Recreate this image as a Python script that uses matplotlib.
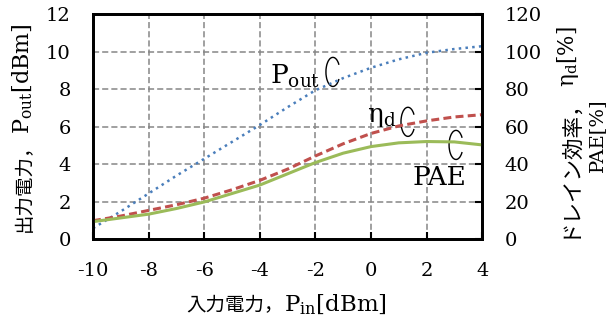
import matplotlib
matplotlib.use("Agg")
import matplotlib.pyplot as plt
from matplotlib.patches import Arc

# input power [dBm]
pin = [-10, -9, -8, -7, -6, -5, -4, -3, -2, -1, 0, 1, 2, 3, 4]
# output power [dBm]
pout = [0.6, 1.5, 2.45, 3.4, 4.3, 5.2, 6.1, 7.05, 7.95, 8.6, 9.15, 9.6, 9.95, 10.15, 10.3]
# drain efficiency [%]
eta_d = [10, 12.5, 15.5, 18.5, 22, 26.5, 31.5, 37.5, 44.5, 51, 56.5, 60.5, 63.2, 65.3, 66.5]
# power added efficiency [%]
pae = [9.5, 11.5, 13.5, 16.5, 20, 24.5, 29, 35, 41, 46, 49.5, 51.5, 52.2, 52, 50.4]

xticks = [-10, -8, -6, -4, -2, 0, 2, 4]
yticks_left = [0, 2, 4, 6, 8, 10, 12]
yticks_right = [0, 20, 40, 60, 80, 100, 120]

plt.rcParams["font.family"] = ["DejaVu Serif", "Noto Sans CJK JP"]
plt.rcParams["mathtext.fontset"] = "dejavuserif"
plt.rcParams["mathtext.default"] = "rm"

jp = ["Noto Sans CJK JP"]

fig = plt.figure(figsize=(6.08, 3.2), dpi=100)
ax = fig.add_axes([0.153, 0.2516, 0.640, 0.7037])
ax2 = ax.twinx()

ax.plot(pin, pout, color="#4a7ebb", linestyle=(0, (1, 1.7)), linewidth=1.8)
ax2.plot(pin, eta_d, color="#c0504d", linestyle=(0, (2.6, 1.4)), linewidth=2.2)
ax2.plot(pin, pae, color="#9bbb59", linestyle="-", linewidth=2.2)

ax.set_xlim(-10, 4)
ax.set_ylim(0, 12)
ax2.set_ylim(0, 120)
ax.set_xticks(xticks)
ax.set_xticklabels([str(v) for v in xticks])
ax.set_yticks(yticks_left)
ax2.set_yticks(yticks_right)

ax.grid(True, color="#868686", linestyle=(0, (4, 2)), linewidth=1.1)
ax.set_axisbelow(True)
for a in (ax, ax2):
    for s in a.spines.values():
        s.set_linewidth(2.0)
    a.tick_params(direction="in", length=5, width=1.5, labelsize=14, pad=16)
ax.tick_params(axis="y", length=0)

# axis labels: Japanese part and Latin part placed side by side
def split_label(x, y, jp_text, latin, jp_size, latin_size, rotation=0):
    fig.text(x, y, jp_text, family=jp, fontsize=jp_size, ha="right", va="baseline",
             rotation=rotation, rotation_mode="anchor")
    fig.text(x, y, latin, fontsize=latin_size, ha="left", va="baseline",
             rotation=rotation, rotation_mode="anchor")

split_label(0.467, 0.028, "入力電力，", "$\\mathrm{P_{in}[dBm]}$", 14, 16.5)
split_label(0.049, 0.581, "出力電力，", "$\\mathrm{P_{out}[dBm]}$", 14, 16, rotation=90)
split_label(0.944, 0.728, "ドレイン効率，", "$\\mathrm{\\eta_d[\\%]}$", 15.5, 15.5, rotation=90)
fig.text(0.99, 0.578, "PAE[%]", fontsize=14, ha="center", va="baseline",
         rotation=90, rotation_mode="anchor")

# curve annotations
ax.text(-3.63, 8.3, "$\\mathrm{P_{out}}$", fontsize=19, va="baseline", ha="left")
ax.text(-0.14, 6.28, "$\\mathrm{\\eta_d}$", fontsize=19, va="baseline", ha="left")
ax.text(1.51, 2.91, "PAE", fontsize=19, va="baseline", ha="left")
for cx, cy in [(-1.37, 8.93), (1.33, 6.27), (3.06, 5.04)]:
    ax.add_patch(Arc((cx, cy), 0.5, 1.55, theta1=60, theta2=300, color="black", linewidth=1.0))

fig.savefig("out.png", dpi=100)
